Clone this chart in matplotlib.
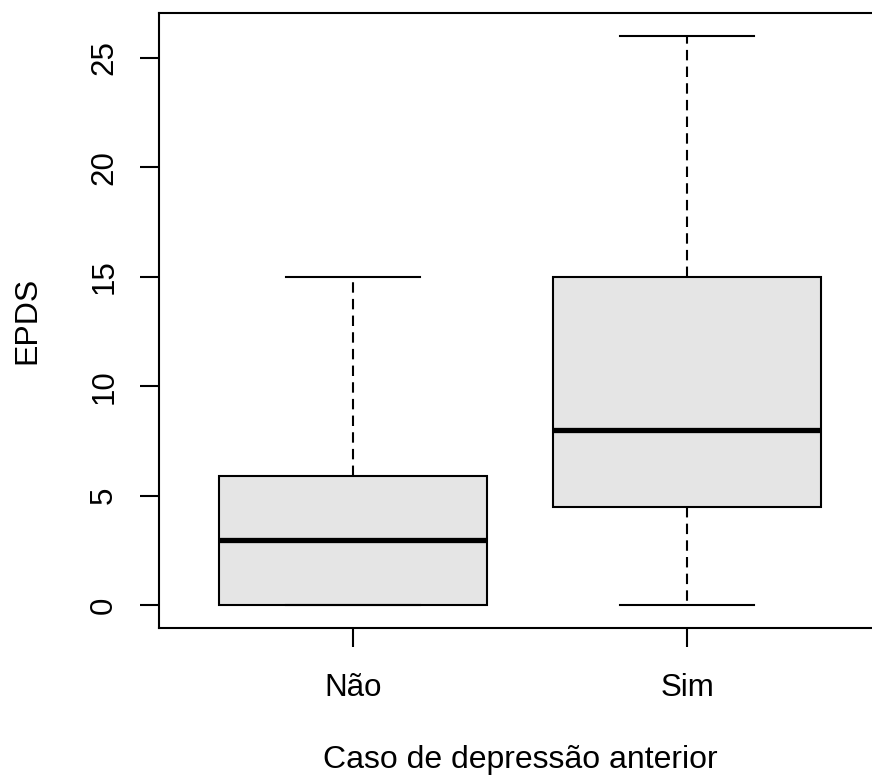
import matplotlib
matplotlib.use("Agg")
import matplotlib.pyplot as plt

categorias = ["Não", "Sim"]
minimos = [0, 0]
q1 = [0, 4.5]
medianas = [3, 8]
q3 = [5.9, 15]
maximos = [15, 26]
yticks = [0, 5, 10, 15, 20, 25]

plt.rcParams["font.family"] = ["Liberation Sans", "DejaVu Sans"]

stats = []
for i, nome in enumerate(categorias):
    stats.append({"label": nome, "whislo": minimos[i], "q1": q1[i],
                  "med": medianas[i], "q3": q3[i], "whishi": maximos[i],
                  "fliers": []})

fig = plt.figure(figsize=(8.72, 7.8), dpi=100)
ax = fig.add_axes([159 / 872, 152 / 780, 722 / 872, 615 / 780])

lw = 1.5
ax.bxp(stats, positions=[1, 2], widths=0.8, capwidths=0.4, patch_artist=True,
       showfliers=False,
       boxprops=dict(facecolor="#e5e5e5", edgecolor="black", linewidth=lw),
       medianprops=dict(color="black", linewidth=3.8, solid_capstyle="butt"),
       whiskerprops=dict(color="black", linewidth=lw, linestyle=(0, (5, 3))),
       capprops=dict(color="black", linewidth=lw))

ax.set_xlim(0.42, 2.58)
ax.set_ylim(-1.04, 27.04)
ax.set_yticks(yticks)
ax.set_xticks([1, 2])
ax.set_xticklabels(categorias)
for s in ax.spines.values():
    s.set_linewidth(lw)

ax.tick_params(axis="both", length=13.7, width=lw, labelsize=22.5, color="black")
ax.tick_params(axis="y", pad=15)
ax.tick_params(axis="x", pad=19)
for t in ax.get_yticklabels():
    t.set_rotation(90)
    t.set_va("center")

ax.set_xlabel("Caso de depressão anterior", fontsize=23, labelpad=30)
ax.set_ylabel("EPDS", fontsize=23, labelpad=34)

plt.savefig("out.png", dpi=100)
